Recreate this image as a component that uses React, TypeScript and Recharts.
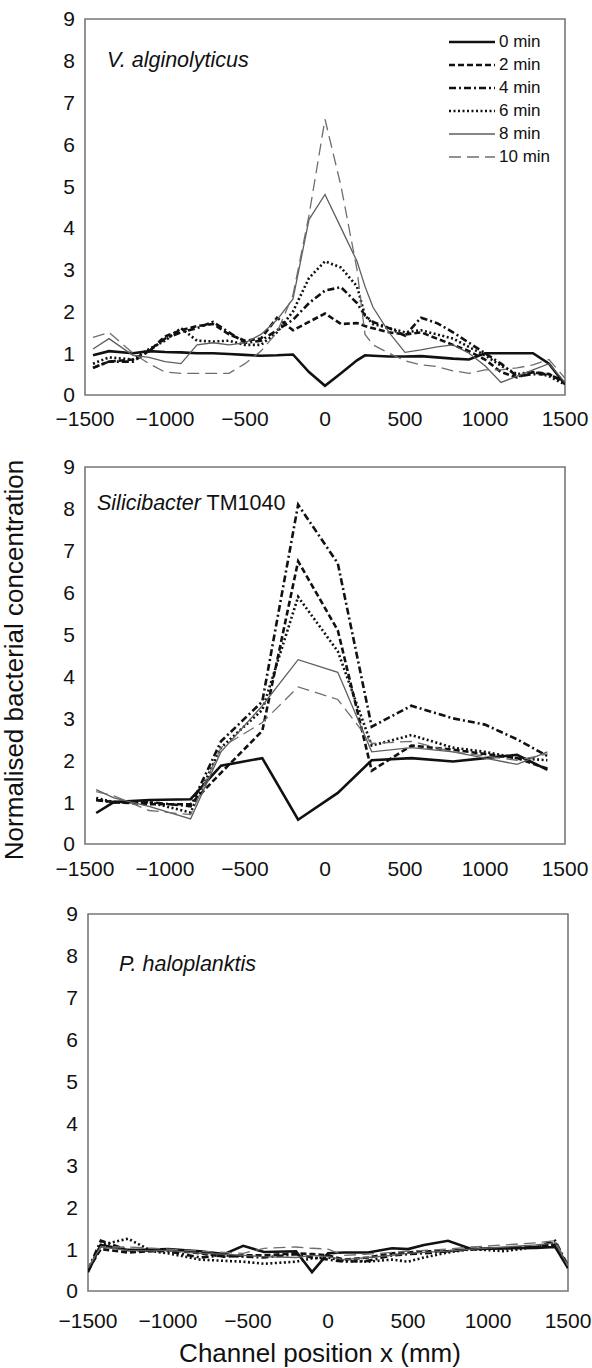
import { LineChart, Line, XAxis, YAxis, ReferenceArea } from 'recharts';

const FONT = '"Liberation Sans", Arial, Helvetica, sans-serif';

const X_TICKS = [-1500, -1000, -500, 0, 500, 1000, 1500];
const Y_TICKS = [0, 1, 2, 3, 4, 5, 6, 7, 8, 9];
const SERIES_NAMES = ['0 min', '2 min', '4 min', '6 min', '8 min', '10 min'];

// V. alginolyticus
const P1_X = [-1450, -1350, -1200, -1100, -1000, -900, -800, -700, -600, -500, -400, -300, -200, -100, 0, 100, 200, 250, 300, 400, 500, 600, 700, 800, 900, 1000, 1100, 1200, 1300, 1400, 1500];
const P1_0 = [0.95, 1.05, 1.0, 1.05, 1.03, 1.02, 1.0, 1.0, 0.98, 0.96, 0.94, 0.95, 0.97, 0.55, 0.22, 0.52, 0.83, 0.95, 0.94, 0.92, 0.92, 0.93, 0.9, 0.87, 0.85, 1.0, 1.0, 1.0, 1.0, 0.75, 0.25];
const P1_2 = [0.65, 0.8, 0.85, 1.05, 1.4, 1.55, 1.65, 1.7, 1.45, 1.3, 1.35, 1.85, 1.55, 1.75, 1.95, 1.7, 1.72, 1.65, 1.6, 1.5, 1.45, 1.5, 1.35, 1.2, 1.05, 0.85, 0.55, 0.42, 0.55, 0.5, 0.3];
const P1_4 = [0.65, 0.8, 0.8, 1.05, 1.35, 1.5, 1.6, 1.75, 1.5, 1.25, 1.3, 1.55, 1.8, 2.2, 2.5, 2.58, 2.2, 1.9, 1.75, 1.6, 1.42, 1.85, 1.72, 1.5, 1.25, 1.0, 0.75, 0.45, 0.5, 0.5, 0.3];
const P1_6 = [0.75, 0.9, 0.85, 1.1, 1.3, 1.6, 1.3, 1.28, 1.3, 1.2, 1.2, 1.5, 2.0, 2.8, 3.2, 3.05, 2.6, 1.9, 1.7, 1.6, 1.5, 1.55, 1.45, 1.35, 1.15, 0.95, 0.7, 0.5, 0.55, 0.45, 0.25];
const P1_8 = [1.1, 1.35, 0.95, 0.9, 0.8, 0.75, 1.2, 1.25, 1.2, 1.25, 1.45, 1.8, 2.3, 4.2, 4.8, 4.0, 3.2, 2.6, 2.1, 1.5, 1.02, 1.08, 1.15, 1.2, 1.0, 0.7, 0.3, 0.45, 0.6, 0.75, 0.3];
const P1_10 = [1.38, 1.5, 1.0, 0.75, 0.55, 0.52, 0.52, 0.52, 0.52, 0.75, 1.05, 1.5, 2.4, 4.3, 6.6, 5.0, 3.0, 1.45, 1.2, 1.0, 0.82, 0.72, 0.68, 0.58, 0.52, 0.6, 0.6, 0.65, 0.72, 0.85, 0.4];

// Silicibacter TM1040
const P2_X = [-1430, -1320, -1100, -840, -650, -392, -168, 80, 292, 540, 800, 1000, 1200, 1390];
const P2_0 = [0.74, 1.0, 1.05, 1.07, 1.87, 2.05, 0.58, 1.22, 2.0, 2.05, 1.97, 2.05, 2.13, 1.77];
const P2_2 = [1.05, 1.0, 0.95, 0.95, 1.7, 2.7, 6.75, 5.1, 1.75, 2.35, 2.25, 2.15, 2.05, 1.8];
const P2_4 = [1.05, 1.0, 1.0, 0.9, 2.45, 3.4, 8.1, 6.7, 2.8, 3.3, 3.0, 2.85, 2.5, 2.1];
const P2_6 = [1.1, 1.0, 1.0, 0.75, 2.3, 3.2, 5.9, 4.6, 2.35, 2.6, 2.3, 2.2, 2.05, 2.0];
const P2_8 = [1.3, 1.1, 0.9, 0.6, 2.2, 3.3, 4.4, 4.1, 2.2, 2.3, 2.2, 2.05, 1.9, 2.2];
const P2_10 = [1.25, 1.15, 0.8, 0.7, 2.3, 2.9, 3.75, 3.45, 2.4, 2.45, 2.2, 2.1, 2.0, 2.15];

// P. haloplanktis
const P3_X = [-1500, -1420, -1250, -1100, -1000, -800, -650, -530, -400, -200, -100, 0, 100, 250, 400, 500, 600, 750, 900, 1100, 1300, 1420, 1500];
const P3_0 = [0.45, 1.1, 0.98, 0.99, 1.0, 0.95, 0.88, 1.08, 0.93, 0.95, 0.45, 0.9, 0.92, 0.92, 1.02, 1.0, 1.1, 1.2, 1.0, 1.02, 1.03, 1.05, 0.55];
const P3_2 = [0.5, 1.0, 0.92, 0.95, 0.98, 0.9, 0.82, 0.85, 0.85, 0.9, 0.88, 0.85, 0.75, 0.8, 0.9, 0.92, 0.95, 0.95, 1.0, 1.02, 1.05, 1.1, 0.6];
const P3_4 = [0.5, 1.2, 0.98, 0.96, 0.95, 0.8, 0.85, 0.82, 0.8, 0.88, 0.8, 0.75, 0.7, 0.72, 0.85, 0.88, 0.9, 0.95, 1.0, 1.02, 1.05, 1.2, 0.6];
const P3_6 = [0.5, 1.1, 1.25, 0.95, 0.9, 0.75, 0.72, 0.7, 0.65, 0.7, 0.78, 0.8, 0.72, 0.7, 0.75, 0.7, 0.8, 0.92, 1.0, 0.95, 1.05, 1.15, 0.55];
const P3_8 = [0.55, 1.05, 0.97, 0.96, 0.97, 0.9, 0.88, 0.85, 0.82, 0.8, 0.85, 0.82, 0.75, 0.8, 0.85, 0.9, 0.92, 0.95, 1.0, 1.05, 1.1, 1.15, 0.6];
const P3_10 = [0.55, 1.05, 1.05, 1.02, 1.0, 0.95, 0.92, 0.9, 1.02, 1.05, 1.02, 1.0, 0.85, 0.88, 0.92, 0.95, 0.97, 1.0, 1.05, 1.1, 1.15, 1.2, 0.6];

// line look per series, same order as SERIES_NAMES
const STYLES = [
  { stroke: '#111', width: 2.6, dash: undefined },
  { stroke: '#111', width: 2.6, dash: '6 3' },
  { stroke: '#111', width: 2.6, dash: '7 3 2 3' },
  { stroke: '#111', width: 2.6, dash: '2 2.5' },
  { stroke: '#5e5e5e', width: 1.3, dash: undefined },
  { stroke: '#6e6e6e', width: 1.3, dash: '12 6' },
];

const fmtX = (v: number) => (v < 0 ? `\u2212${-v}` : `${v}`);

const CHART_W = 592;

type PanelProps = {
  plotTop: number;
  plotLeft: number;
  plotRight: number;
  plotH: number;
  xs: number[];
  ys: number[][];
  tickGap: number;
};

function Panel({ plotTop, plotLeft, plotRight, plotH, xs, ys, tickGap }: PanelProps) {
  const rows = xs.map((x, i) => {
    const r: Record<string, number> = { x };
    ys.forEach((s, k) => (r[`s${k}`] = s[i]));
    return r;
  });
  const padTop = 16;
  const axisH = 50;
  const tick = { fontSize: 21, fill: '#111', fontFamily: FONT };

  return (
    <div style={{ position: 'absolute', left: 0, top: plotTop - padTop }}>
      <LineChart
        width={CHART_W}
        height={padTop + plotH + axisH}
        data={rows}
        margin={{ top: padTop, right: CHART_W - plotRight, bottom: 0, left: plotLeft - 40 }}
      >
        <XAxis
          type="number"
          dataKey="x"
          domain={[-1500, 1500]}
          ticks={X_TICKS}
          interval={0}
          tickFormatter={fmtX}
          axisLine={false}
          tickLine={false}
          tickSize={0}
          tickMargin={tickGap}
          height={axisH}
          tick={tick}
          allowDataOverflow
        />
        <YAxis
          type="number"
          domain={[0, 9]}
          ticks={Y_TICKS}
          interval={0}
          width={40}
          axisLine={false}
          tickLine={false}
          tickSize={0}
          tickMargin={10}
          tick={tick}
          allowDataOverflow
        />
        <ReferenceArea
          x1={-1500}
          x2={1500}
          y1={0}
          y2={9}
          fill="none"
          stroke="#777"
          strokeWidth={1.6}
          ifOverflow="visible"
        />
        {STYLES.map((st, k) => (
          <Line
            key={k}
            dataKey={`s${k}`}
            name={SERIES_NAMES[k]}
            type="linear"
            stroke={st.stroke}
            strokeWidth={st.width}
            strokeDasharray={st.dash}
            dot={false}
            activeDot={false}
            isAnimationActive={false}
          />
        ))}
      </LineChart>
    </div>
  );
}

function LegendBox() {
  return (
    <div style={{ position: 'absolute', left: 449, top: 30, fontFamily: FONT, fontSize: 17, color: '#111' }}>
      {SERIES_NAMES.map((n, k) => (
        <div key={n} style={{ display: 'flex', alignItems: 'center', height: 23 }}>
          <svg width={46} height={10}>
            <line
              x1={0}
              y1={5}
              x2={46}
              y2={5}
              stroke={STYLES[k].stroke}
              strokeWidth={STYLES[k].width}
              strokeDasharray={STYLES[k].dash}
            />
          </svg>
          <span style={{ marginLeft: 4 }}>{n}</span>
        </div>
      ))}
    </div>
  );
}

const label = (left: number, top: number): React.CSSProperties => ({
  position: 'absolute',
  left,
  top,
  fontFamily: FONT,
  fontSize: 21.5,
  lineHeight: '24px',
  color: '#111',
  whiteSpace: 'nowrap',
});

export default function App() {
  return (
    <div style={{ position: 'relative', width: 592, height: 1368, background: '#fff' }}>
      <style>{'body { margin: 0; }'}</style>
      <Panel plotTop={19} plotLeft={85} plotRight={565} plotH={376} xs={P1_X} ys={[P1_0, P1_2, P1_4, P1_6, P1_8, P1_10]} tickGap={16} />
      <Panel plotTop={467} plotLeft={85} plotRight={565} plotH={377} xs={P2_X} ys={[P2_0, P2_2, P2_4, P2_6, P2_8, P2_10]} tickGap={17} />
      <Panel plotTop={914} plotLeft={88} plotRight={568} plotH={377} xs={P3_X} ys={[P3_0, P3_2, P3_4, P3_6, P3_8, P3_10]} tickGap={22} />

      <LegendBox />

      <div style={label(107, 48)}>
        <i>V. alginolyticus</i>
      </div>
      <div style={label(97, 491)}>
        <i>Silicibacter</i> TM1040
      </div>
      <div style={label(119, 952)}>
        <i>P. haloplanktis</i>
      </div>

      <div
        style={{
          position: 'absolute',
          left: 14 - 260,
          top: 660 - 16,
          width: 520,
          height: 32,
          lineHeight: '32px',
          textAlign: 'center',
          transform: 'rotate(-90deg)',
          fontFamily: FONT,
          fontSize: 26,
          color: '#111',
          whiteSpace: 'nowrap',
        }}
      >
        Normalised bacterial concentration
      </div>
      <div
        style={{
          position: 'absolute',
          left: 320 - 200,
          top: 1353 - 16,
          width: 400,
          lineHeight: '32px',
          textAlign: 'center',
          fontFamily: FONT,
          fontSize: 26,
          color: '#111',
          whiteSpace: 'nowrap',
        }}
      >
        Channel position x (mm)
      </div>
    </div>
  );
}
